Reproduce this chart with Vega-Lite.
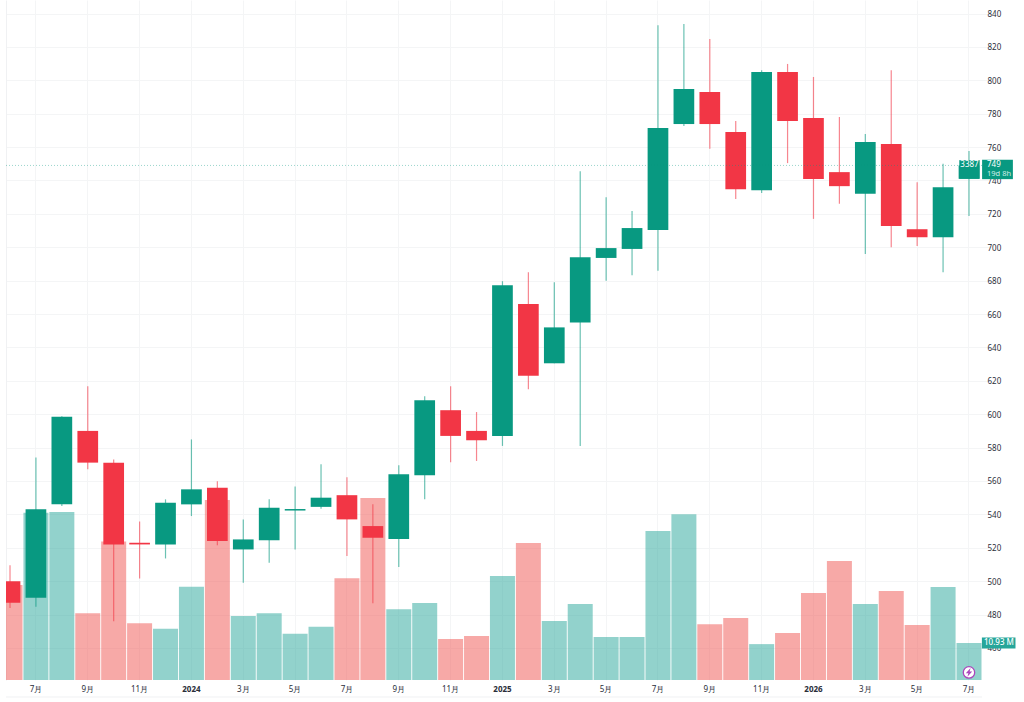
{
  "$schema": "https://vega.github.io/schema/vega-lite/v6.json",
  "width": 976,
  "height": 680,
  "autosize": "none",
  "padding": {"left": 6, "top": 0, "right": 42, "bottom": 22},
  "background": "#ffffff",
  "view": {"stroke": null},
  "config": {"font": "Noto Sans"},
  "data": {
    "values": [
      {"month": "2023-06", "open": 500, "high": 509.5, "low": 484, "close": 487, "volume": 28.06},
      {"month": "2023-07", "open": 490, "high": 574, "low": 484.6, "close": 543, "volume": 49.4},
      {"month": "2023-08", "open": 546, "high": 598.8, "low": 545, "close": 598.5, "volume": 49.6},
      {"month": "2023-09", "open": 590, "high": 616.8, "low": 567, "close": 571, "volume": 19.7},
      {"month": "2023-10", "open": 571, "high": 572.9, "low": 476, "close": 522, "volume": 40.9},
      {"month": "2023-11", "open": 523, "high": 535.7, "low": 501.6, "close": 522, "volume": 16.75},
      {"month": "2023-12", "open": 522, "high": 549, "low": 513.6, "close": 547, "volume": 15.15},
      {"month": "2024-01", "open": 546, "high": 584.9, "low": 539, "close": 555, "volume": 27.56},
      {"month": "2024-02", "open": 556, "high": 559.9, "low": 521.5, "close": 524, "volume": 53.2},
      {"month": "2024-03", "open": 519, "high": 537, "low": 499, "close": 525, "volume": 18.9},
      {"month": "2024-04", "open": 524.5, "high": 549, "low": 511, "close": 544, "volume": 19.7},
      {"month": "2024-05", "open": 542.3, "high": 556.7, "low": 519, "close": 543.2, "volume": 13.68},
      {"month": "2024-06", "open": 544.5, "high": 570, "low": 543.3, "close": 550, "volume": 15.75},
      {"month": "2024-07", "open": 551.5, "high": 562.3, "low": 515, "close": 537, "volume": 30.04},
      {"month": "2024-08", "open": 533, "high": 546, "low": 486.8, "close": 526, "volume": 53.76},
      {"month": "2024-09", "open": 525.3, "high": 569.5, "low": 508.5, "close": 564, "volume": 20.88},
      {"month": "2024-10", "open": 563.5, "high": 610.8, "low": 549, "close": 608.4, "volume": 22.75},
      {"month": "2024-11", "open": 602.4, "high": 616.8, "low": 571.3, "close": 587, "volume": 12.1},
      {"month": "2024-12", "open": 590, "high": 601.3, "low": 572, "close": 584.4, "volume": 13},
      {"month": "2025-01", "open": 587, "high": 679.7, "low": 581, "close": 677.3, "volume": 30.7},
      {"month": "2025-02", "open": 666, "high": 685, "low": 615, "close": 623, "volume": 40.5},
      {"month": "2025-03", "open": 630.5, "high": 679, "low": 630.5, "close": 652, "volume": 17.4},
      {"month": "2025-04", "open": 655, "high": 745.6, "low": 581, "close": 694, "volume": 22.45},
      {"month": "2025-05", "open": 693.6, "high": 730, "low": 680, "close": 699.5, "volume": 12.7},
      {"month": "2025-06", "open": 699, "high": 721.7, "low": 683.3, "close": 711.5, "volume": 12.7},
      {"month": "2025-07", "open": 710.3, "high": 833, "low": 686, "close": 771.4, "volume": 44},
      {"month": "2025-08", "open": 773.8, "high": 833.7, "low": 772.6, "close": 794.8, "volume": 49},
      {"month": "2025-09", "open": 793, "high": 824.7, "low": 759, "close": 773.8, "volume": 16.5},
      {"month": "2025-10", "open": 769, "high": 775.6, "low": 728.9, "close": 734.8, "volume": 18.3},
      {"month": "2025-11", "open": 734.2, "high": 806, "low": 732.5, "close": 805, "volume": 10.6},
      {"month": "2025-12", "open": 805, "high": 809.8, "low": 750.4, "close": 775.6, "volume": 13.9},
      {"month": "2026-01", "open": 777.4, "high": 802, "low": 717, "close": 740.9, "volume": 25.7},
      {"month": "2026-02", "open": 745, "high": 778, "low": 726, "close": 736.6, "volume": 35.15},
      {"month": "2026-03", "open": 732, "high": 767.8, "low": 696, "close": 763, "volume": 22.45},
      {"month": "2026-04", "open": 761.8, "high": 806, "low": 700, "close": 712.7, "volume": 26.3},
      {"month": "2026-05", "open": 710.8, "high": 739, "low": 700.7, "close": 706, "volume": 16.25},
      {"month": "2026-06", "open": 706, "high": 750, "low": 685, "close": 736, "volume": 27.5},
      {"month": "2026-07", "open": 741, "high": 757.6, "low": 718.7, "close": 749, "volume": 10.93}
    ]
  },
  "encoding": {
    "x": {
      "field": "month",
      "type": "ordinal",
      "title": null,
      "scale": {"range": [-8.95, 975.95], "paddingInner": 0, "paddingOuter": 0},
      "axis": {
        "values": ["2023-07", "2023-09", "2023-11", "2024-01", "2024-03", "2024-05", "2024-07", "2024-09", "2024-11", "2025-01", "2025-03", "2025-05", "2025-07", "2025-09", "2025-11", "2026-01", "2026-03", "2026-05", "2026-07"],
        "labelExpr": "slice(datum.value, 5) == '01' ? slice(datum.value, 0, 4) : toNumber(slice(datum.value, 5)) + '月'",
        "labelFontWeight": {"condition": {"test": "slice(datum.value, 5) == '01'", "value": "bold"}, "value": "normal"},
        "labelAngle": 0,
        "labelFontSize": 8,
        "labelColor": "#2a2e39",
        "labelPadding": 5,
        "labelOverlap": false,
        "domain": false,
        "ticks": false,
        "grid": true,
        "gridColor": "#f4f5f6",
        "gridWidth": 1
      }
    }
  },
  "resolve": {"scale": {"y": "independent"}},
  "layer": [
    {
      "encoding": {
        "y": {
          "field": "volume",
          "type": "quantitative",
          "title": null,
          "scale": {"domain": [0, 200.9], "nice": false, "zero": true},
          "axis": {"orient": "left", "labels": false, "ticks": false, "grid": false, "domain": true, "domainColor": "#f0f1f3", "domainWidth": 1}
        }
      },
      "layer": [
        {
          "mark": {"type": "bar", "size": 25, "clip": true, "opacity": 0.5},
          "encoding": {
            "color": {
              "condition": {"test": "datum.close >= datum.open", "value": "#26a69a"},
              "value": "#ef5350"
            }
          }
        },
        {
          "transform": [{"filter": "datum.month == '2026-07'"}],
          "mark": {"type": "rule", "color": "#f0f1f3", "strokeWidth": 1, "x2Offset": 36},
          "encoding": {"x": null, "y": {"datum": -5.02}}
        },
        {
          "transform": [{"filter": "datum.month == '2026-07'"}],
          "mark": {"type": "point", "shape": "M-16.8,-5.5H16.8V5.5H-16.8Z", "size": 4, "filled": true, "opacity": 1, "color": "#26a69a", "xOffset": 29.7}
        },
        {
          "transform": [{"filter": "datum.month == '2026-07'"}],
          "mark": {"type": "text", "text": "10.93 M", "color": "#ffffff", "fontSize": 8, "fontWeight": 500, "xOffset": 30}
        },
        {
          "transform": [{"filter": "datum.month == '2026-07'"}],
          "mark": {"type": "point", "shape": "circle", "size": 130, "filled": false, "fill": "#ffffff", "fillOpacity": 1, "stroke": "#ab47bc", "strokeWidth": 1.3, "opacity": 1},
          "encoding": {"y": {"datum": 2.25}}
        },
        {
          "transform": [{"filter": "datum.month == '2026-07'"}],
          "mark": {"type": "point", "shape": "M1.6,-4.4L-3.2,0.9H-0.6L-1.6,4.4L3.2,-0.9H0.6Z", "size": 4, "filled": true, "opacity": 1, "color": "#ab47bc"},
          "encoding": {"y": {"datum": 2.25}}
        }
      ]
    },
    {
      "encoding": {
        "y": {
          "field": "close",
          "type": "quantitative",
          "title": null,
          "scale": {"domain": [440.8, 848.1], "nice": false, "zero": false},
          "axis": {
            "orient": "right",
            "values": [460, 480, 500, 520, 540, 560, 580, 600, 620, 640, 660, 680, 700, 720, 740, 760, 780, 800, 820, 840],
            "labelFontSize": 8,
            "labelColor": "#2a2e39",
            "labelPadding": 5,
            "labelOffset": 1,
            "domain": false,
            "ticks": false,
            "grid": true,
            "gridColor": "#f4f5f6",
            "gridWidth": 1
          }
        }
      },
      "layer": [
        {
          "mark": {"type": "rule", "clip": true, "strokeWidth": 1.2, "opacity": 0.6},
          "encoding": {
            "y": {"field": "low", "type": "quantitative"},
            "y2": {"field": "high"},
            "color": {
              "condition": {"test": "datum.close >= datum.open", "value": "#089981"},
              "value": "#f23645"
            }
          }
        },
        {
          "mark": {"type": "bar", "size": 20.7, "clip": true},
          "encoding": {
            "y": {"field": "open", "type": "quantitative"},
            "y2": {"field": "close"},
            "color": {
              "condition": {"test": "datum.close >= datum.open", "value": "#089981"},
              "value": "#f23645"
            }
          }
        },
        {
          "transform": [{"filter": "datum.month == '2026-07'"}],
          "mark": {"type": "rule", "color": "#089981", "strokeWidth": 1, "strokeDash": [1, 2], "opacity": 0.4},
          "encoding": {"x": null}
        },
        {
          "transform": [{"filter": "datum.month == '2026-07'"}],
          "mark": {"type": "point", "shape": "M-10.2,-9.3H10.2V9.3H-10.2Z", "size": 4, "filled": true, "opacity": 1, "color": "#089981", "yOffset": 4, "xOffset": 0.5}
        },
        {
          "transform": [{"filter": "datum.month == '2026-07'"}],
          "mark": {"type": "point", "shape": "M-15.4,-9.7H15.4V9.7H-15.4Z", "size": 4, "filled": true, "opacity": 1, "color": "#089981", "yOffset": 4, "xOffset": 28.5}
        },
        {
          "transform": [{"filter": "datum.month == '2026-07'"}],
          "mark": {"type": "text", "text": "3387", "color": "#ffffff", "fontSize": 8, "xOffset": 0.5}
        },
        {
          "transform": [{"filter": "datum.month == '2026-07'"}],
          "mark": {"type": "text", "color": "#ffffff", "fontSize": 8, "align": "left", "xOffset": 18},
          "encoding": {"text": {"field": "close", "type": "quantitative"}}
        },
        {
          "transform": [{"filter": "datum.month == '2026-07'"}],
          "mark": {"type": "text", "text": "19d 8h", "color": "#cfeee7", "fontSize": 7.5, "align": "left", "yOffset": 9, "xOffset": 18}
        }
      ]
    }
  ]
}
